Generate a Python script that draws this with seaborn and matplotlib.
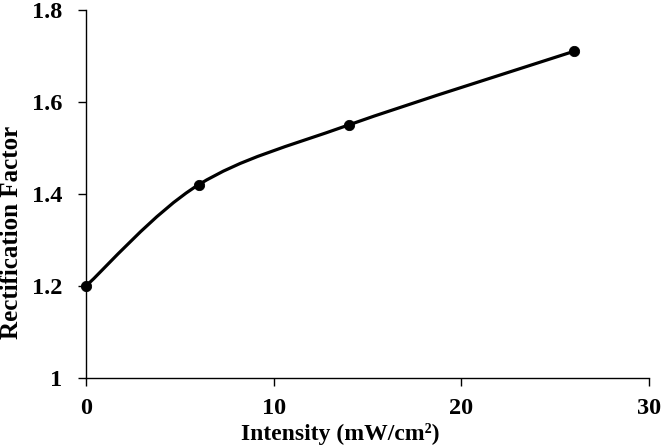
import matplotlib
matplotlib.use("Agg")
import matplotlib.pyplot as plt
import seaborn as sns
import numpy as np
import pandas as pd
from matplotlib.path import Path
from matplotlib.patches import PathPatch

intensity = [0, 6, 14, 26]
rect_factor = [1.20, 1.42, 1.55, 1.71]
x_ticks = [0, 10, 20, 30]
y_ticks = [1.0, 1.2, 1.4, 1.6, 1.8]
y_tick_labels = ["1", "1.2", "1.4", "1.6", "1.8"]

sns.set_theme(style="ticks")
plt.rcParams['font.family'] = ['Liberation Serif', 'DejaVu Serif']
plt.rcParams['font.weight'] = 'bold'
plt.rcParams['text.color'] = 'black'

df = pd.DataFrame({"Intensity": intensity, "Rect": rect_factor})

fig = plt.figure(figsize=(6.61, 4.48), dpi=100)
ax = fig.add_axes([0.130, 0.156, 0.852, 0.822])

# Excel-style smoothed line through data points (cubic Bezier segments)
xs = np.array(intensity, dtype=float)
ys = np.array(rect_factor, dtype=float)
n = len(xs)
verts = [(xs[0], ys[0])]
codes = [Path.MOVETO]
for i in range(n - 1):
    p0 = np.array([xs[max(i - 1, 0)], ys[max(i - 1, 0)]])
    p1 = np.array([xs[i], ys[i]])
    p2 = np.array([xs[i + 1], ys[i + 1]])
    p3 = np.array([xs[min(i + 2, n - 1)], ys[min(i + 2, n - 1)]])
    c1 = p1 + (p2 - p0) / 6.0
    c2 = p2 - (p3 - p1) / 6.0
    verts += [tuple(c1), tuple(c2), tuple(p2)]
    codes += [Path.CURVE4] * 3
ax.add_patch(PathPatch(Path(verts, codes), facecolor="none", edgecolor="black", lw=2.3, zorder=2))

sns.scatterplot(data=df, x="Intensity", y="Rect", ax=ax, color="black", s=55,
                edgecolor="black", zorder=3, clip_on=False)

ax.set_xlim(0, 30)
ax.set_ylim(1.0, 1.8)
ax.set_xticks(x_ticks)
ax.set_yticks(y_ticks)
ax.set_yticklabels(y_tick_labels)
for s in ["top", "right"]:
    ax.spines[s].set_visible(False)
for s in ["left", "bottom"]:
    ax.spines[s].set_linewidth(1.0)
    ax.spines[s].set_color("black")
ax.tick_params(axis="both", direction="out", length=6, width=1.0, colors="black",
               labelsize=17.5)
ax.tick_params(axis="x", pad=8)
ax.tick_params(axis="y", pad=11)
for lab in ax.get_xticklabels() + ax.get_yticklabels():
    lab.set_fontweight("bold")

ax.set_xlabel("")
ax.set_ylabel("")
fig.text(340 / 661, 1 - 440 / 448, "Intensity (mW/cm²)", ha="center", va="baseline",
         fontsize=17, fontweight="bold", color="black")
fig.text(12 / 661, 1 - 232 / 448, "Rectification Factor", ha="center", va="center",
         rotation=90, fontsize=18, fontweight="bold", color="black")

fig.savefig("out.png", dpi=100)
